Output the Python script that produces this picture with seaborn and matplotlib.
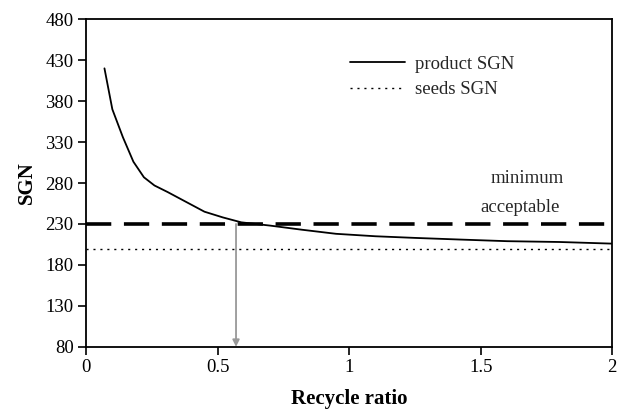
import matplotlib
matplotlib.use("Agg")
import matplotlib.pyplot as plt
import seaborn as sns
import pandas as pd

# Product SGN as a function of recycle ratio
recycle_ratio = [0.07, 0.10, 0.14, 0.18, 0.22, 0.26, 0.31, 0.38, 0.45, 0.52, 0.59,
                 0.70, 0.82, 0.95, 1.10, 1.25, 1.42, 1.60, 1.80, 2.00]
product_sgn = [420, 370, 336, 306, 287, 277, 269, 257, 245, 238, 232,
               228, 223, 218, 215, 213, 211, 209, 208, 206]

seeds_sgn = 200
minimum_sgn = 230
crossing_ratio = 0.57

y_ticks = [80, 130, 180, 230, 280, 330, 380, 430, 480]
x_ticks = [0, 0.5, 1, 1.5, 2]
x_tick_labels = ["0", "0.5", "1", "1.5", "2"]

sns.set_theme(style="ticks")
plt.rcParams["font.family"] = ["Liberation Serif", "DejaVu Serif"]

fig = plt.figure(figsize=(6.28, 4.09), dpi=100)
ax = fig.add_axes([0.137, 0.152, 0.838, 0.801])

df = pd.DataFrame({"ratio": recycle_ratio, "sgn": product_sgn})
sns.lineplot(data=df, x="ratio", y="sgn", ax=ax, color="black", lw=1.3,
             label="product SGN")
ax.axhline(seeds_sgn, color="black", lw=1.0, ls=(0, (1.5, 3.5)), label="seeds SGN")
ax.axhline(minimum_sgn, color="black", lw=2.6, ls=(0, (7, 3.5)))

ax.annotate("", xy=(crossing_ratio, 80), xytext=(crossing_ratio, minimum_sgn),
            arrowprops=dict(arrowstyle="-|>", color="#999999", lw=1.3,
                            mutation_scale=10, shrinkA=0, shrinkB=0))

ax.text(1.675, 286, "minimum", ha="center", va="center", fontsize=13.5)
ax.text(1.65, 250, "acceptable", ha="center", va="center", fontsize=13.5)

ax.set_xlim(0, 2)
ax.set_ylim(80, 480)
ax.set_xticks(x_ticks)
ax.set_xticklabels(x_tick_labels)
ax.set_yticks(y_ticks)
ax.tick_params(axis="both", labelsize=13.5, length=6, width=1.2, color="black",
               labelcolor="black", direction="out", pad=3)
for s in ax.spines.values():
    s.set_color("black")
    s.set_linewidth(1.3)
ax.set_xlabel("Recycle ratio", fontsize=15, fontweight="bold", color="black", labelpad=9)
ax.set_ylabel("SGN", fontsize=15, fontweight="bold", color="black", labelpad=6)

leg = ax.legend(loc="upper left", bbox_to_anchor=(0.47, 0.94), frameon=False,
                fontsize=13.5, handlelength=2.9, handletextpad=0.55, labelspacing=0.45)

fig.savefig("out.png", dpi=100, facecolor="white")
